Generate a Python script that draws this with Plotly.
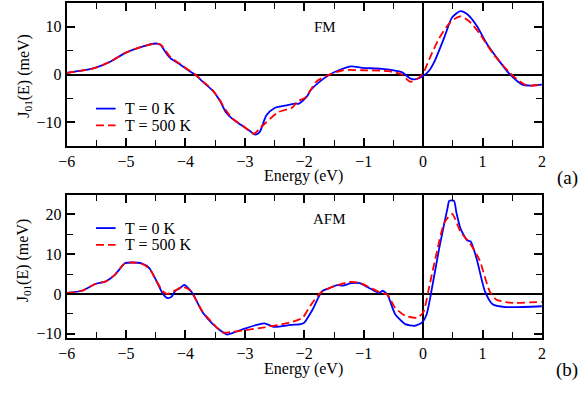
import plotly.graph_objects as go

# ---------------- data ----------------
fm_e_0 = [-6.0, -5.75, -5.52, -5.25, -5.02, -4.74, -4.5, -4.42, -4.33, -4.25, -4.09, -3.93, -3.84, -3.7,
          -3.54, -3.42, -3.32, -3.21, -3.05, -2.92, -2.83, -2.75, -2.7, -2.64, -2.5, -2.28, -2.15, -2.09,
          -1.95, -1.9, -1.75, -1.57, -1.40, -1.21, -1.02, -0.69, -0.36, -0.22, -0.14, 0.0, 0.1, 0.19,
          0.36, 0.49, 0.63, 0.74, 0.90, 1.07, 1.29, 1.45, 1.67, 1.78, 2.0]
fm_j_0 = [0.35, 0.8, 1.4, 2.8, 4.5, 5.8, 6.5, 6.2, 4.6, 3.4, 2.1, 0.7, 0.0, -1.6,
          -3.4, -5.5, -7.9, -9.3, -10.7, -11.8, -12.6, -12.0, -10.5, -8.6, -7.0, -6.4, -6.1, -6.1,
          -4.5, -3.4, -1.6, 0.0, 1.0, 1.7, 1.4, 1.2, 0.5, -0.8, -1.0, -0.3, 0.8, 2.7,
          7.9, 12.0, 13.3, 12.7, 10.3, 6.5, 2.7, 0.2, -2.1, -2.3, -2.1]

fm_e_500 = [-6.0, -5.75, -5.52, -5.25, -5.02, -4.74, -4.5, -4.42, -4.33, -4.25, -4.09, -3.93, -3.84, -3.7,
            -3.54, -3.42, -3.32, -3.21, -3.05, -2.92, -2.85, -2.75, -2.64, -2.44, -2.2, -2.11, -1.98,
            -1.79, -1.57, -1.35, -1.02, -0.58, -0.36, -0.22, -0.11, 0.0, 0.11, 0.27, 0.46, 0.63, 0.79,
            0.95, 1.17, 1.45, 1.62, 1.75, 2.0]
fm_j_500 = [0.35, 0.8, 1.4, 2.8, 4.5, 5.8, 6.5, 6.3, 4.9, 3.6, 2.2, 0.8, 0.0, -1.5,
            -3.3, -5.4, -7.5, -9.2, -10.6, -11.8, -12.4, -11.3, -10.0, -7.9, -6.9, -5.6, -4.8,
            -1.4, 0.0, 0.9, 0.9, 0.7, 0.0, -1.5, -1.0, 0.3, 3.4, 7.6, 11.0, 12.2, 11.0,
            8.6, 4.5, 0.5, -1.4, -2.3, -2.1]

afm_e_0 = [-6.0, -5.74, -5.52, -5.35, -5.19, -5.02, -4.9, -4.74, -4.61, -4.5, -4.39, -4.31, -4.24, -4.17,
           -4.09, -4.02, -3.93, -3.87, -3.71, -3.54, -3.40, -3.30, -3.15, -3.0, -2.8, -2.67, -2.5, -2.23,
           -2.06, -2.0, -1.86, -1.70, -1.57, -1.45, -1.35, -1.21, -1.07, -0.91, -0.74, -0.68, -0.60,
           -0.47, -0.30, -0.14, -0.02, 0.06, 0.14, 0.27, 0.41, 0.44, 0.52, 0.56, 0.63, 0.74, 0.80,
           0.90, 1.04, 1.17, 1.39, 2.0]
afm_j_0 = [0.25, 0.8, 2.5, 3.1, 4.8, 7.7, 7.9, 7.7, 6.5, 3.6, 0.25, -1.0, -0.8, 0.8,
           1.5, 2.3, 1.1, -0.15, -4.7, -7.6, -9.3, -10.2, -9.5, -8.7, -7.8, -7.4, -8.3, -7.8,
           -7.6, -7.2, -3.9, 0.7, 1.5, 2.2, 2.1, 2.7, 2.7, 1.5, 0.25, 0.8, -0.2,
           -5.1, -7.6, -8.0, -7.2, -5.1, 0.7, 11.4, 21.5, 23.4, 23.4, 20.5, 16.4, 13.5, 13.2,
           8.9, 0.7, -2.6, -3.3, -3.1]

afm_e_500 = [-6.0, -5.74, -5.52, -5.35, -5.19, -5.02, -4.9, -4.74, -4.61, -4.5, -4.39, -4.31, -4.17, -4.05,
             -3.93, -3.87, -3.71, -3.54, -3.38, -3.2, -3.0, -2.67, -2.44, -2.2, -2.03, -1.90, -1.73,
             -1.57, -1.24, -1.07, -0.74, -0.60, -0.47, -0.30, -0.11, 0.0, 0.11, 0.22, 0.36, 0.49,
             0.63, 0.79, 0.95, 1.12, 1.23, 1.45, 2.0]
afm_j_500 = [0.25, 0.8, 2.5, 3.1, 4.8, 7.7, 7.9, 7.6, 6.4, 3.6, 0.8, 0.0, 0.9, 1.8,
             1.0, -0.2, -4.5, -7.4, -9.7, -9.5, -9.1, -8.4, -7.8, -7.0, -6.0, -3.0, 0.25,
             1.5, 3.0, 2.8, 0.5, -0.2, -3.5, -5.5, -6.0, -4.7, 2.3, 9.8, 18.0, 20.1,
             15.6, 12.7, 8.5, 0.7, -1.4, -2.2, -2.0]

labels = ["T = 0 K", "T = 500 K"]
panel_tags = ["FM", "AFM"]
panel_letters = ["(a)", "(b)"]

# ---------------- figure ----------------
FONT = "Liberation Serif"
BLUE = "#0000ff"
RED = "#ff0000"
DASH = "8px,4px"
LW = 1.8

fig = go.Figure()
fig.add_trace(go.Scatter(x=fm_e_0, y=fm_j_0, mode="lines", name=labels[0],
                         line=dict(color=BLUE, width=LW, shape="spline", smoothing=0.7),
                         xaxis="x", yaxis="y"))
fig.add_trace(go.Scatter(x=fm_e_500, y=fm_j_500, mode="lines", name=labels[1],
                         line=dict(color=RED, width=LW, dash=DASH, shape="spline", smoothing=0.7),
                         xaxis="x", yaxis="y"))
fig.add_trace(go.Scatter(x=afm_e_0, y=afm_j_0, mode="lines", name=labels[0],
                         line=dict(color=BLUE, width=LW, shape="spline", smoothing=0.6),
                         xaxis="x2", yaxis="y2"))
fig.add_trace(go.Scatter(x=afm_e_500, y=afm_j_500, mode="lines", name=labels[1],
                         line=dict(color=RED, width=LW, dash=DASH, shape="spline", smoothing=0.6),
                         xaxis="x2", yaxis="y2"))

W, H = 586, 395
xdom = [59 / W, 545 / W]
ydom1 = [1 - 148 / H, 1 - 3 / H]
ydom2 = [1 - 342 / H, 1 - 197 / H]

common_ax = dict(showline=True, linecolor="black", linewidth=2, mirror="allticks",
                 ticks="inside", ticklen=8, tickwidth=1.5, tickcolor="black",
                 showgrid=False, zeroline=True, zerolinecolor="black", zerolinewidth=1.5,
                 tickfont=dict(family=FONT, size=16, color="black"))

xax = dict(common_ax, range=[-6, 2], tick0=-6, dtick=1,
           minor=dict(ticks="inside", dtick=0.5, ticklen=6, tickwidth=1.2, tickcolor="black"))

fig.update_layout(
    width=W, height=H, margin=dict(l=0, r=0, t=0, b=0),
    paper_bgcolor="white", plot_bgcolor="white",
    font=dict(family=FONT, size=16, color="black"),
    showlegend=False,
    xaxis=dict(xax, domain=xdom, anchor="y"),
    yaxis=dict(common_ax, domain=ydom1, anchor="x", range=[-15, 15], tick0=0, dtick=10,
               minor=dict(ticks="inside", dtick=5, ticklen=6, tickwidth=1.2, tickcolor="black")),
    xaxis2=dict(xax, domain=xdom, anchor="y2"),
    yaxis2=dict(common_ax, domain=ydom2, anchor="x2", range=[-11, 25], tick0=0, dtick=10,
                minor=dict(ticks="inside", dtick=5, ticklen=6, tickwidth=1.2, tickcolor="black")),
)

ann_font = dict(family=FONT, size=16, color="black")
annotations = [
    dict(text=panel_tags[0], x=323 / W, y=1 - 27 / H, font=dict(family=FONT, size=15, color="black")),
    dict(text=panel_tags[1], x=328 / W, y=1 - 222 / H, font=dict(family=FONT, size=15, color="black")),
    dict(text="Energy (eV)", x=301 / W, y=1 - 178 / H, font=ann_font),
    dict(text="Energy (eV)", x=301 / W, y=1 - 374 / H, font=ann_font),
    dict(text=panel_letters[0], x=571 / W, y=1 - 180 / H, font=dict(family=FONT, size=19, color="black")),
    dict(text=panel_letters[1], x=571 / W, y=1 - 375 / H, font=dict(family=FONT, size=19, color="black")),
    dict(text="J<sub>01</sub>(E) (meV)", x=15 / W, y=1 - 77 / H, textangle=-90, font=ann_font),
    dict(text="J<sub>01</sub>(E) (meV)", x=15 / W, y=1 - 264 / H, textangle=-90, font=ann_font),
]
for a in annotations:
    a.update(xanchor="center")

# manual legends (one per panel)
legend_rows = [(110, 127), (231, 248)]
shapes = []
for rows in legend_rows:
    for lab, yy, col, dsh in zip(labels, rows, [BLUE, RED], ["solid", DASH]):
        shapes.append(dict(type="line", xref="paper", yref="paper",
                           x0=89 / W, x1=109 / W, y0=1 - yy / H, y1=1 - yy / H,
                           line=dict(color=col, width=LW, dash=dsh)))
        annotations.append(dict(text=lab, x=117 / W, y=1 - yy / H, xanchor="left",
                                font=ann_font))

for a in annotations:
    a.update(xref="paper", yref="paper", showarrow=False, yanchor="middle")
fig.update_layout(annotations=annotations, shapes=shapes)

fig.write_html("out.html")
